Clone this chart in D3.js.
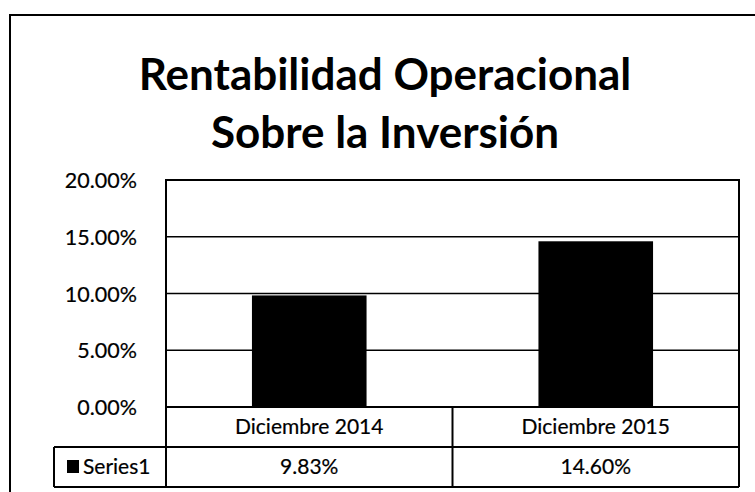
<!DOCTYPE html>
<html>
<head>
<meta charset="utf-8">
<script src="https://cdn.jsdelivr.net/npm/d3@7"></script>
<style>
  body { margin: 0; background: #fff; }
  svg { display: block; font-family: Lato, "Open Sans", sans-serif; }
  .thick { stroke: #000; stroke-width: 0.2px; }
</style>
</head>
<body>
<div id="chart"></div>
<script>
(function(){

let categories = ["Diciembre 2014", "Diciembre 2015"];
let seriesName = "Series1";
let values = [0.0983, 0.1460];
let valueLabels = ["9.83%", "14.60%"];
let yTicks = [0, 0.05, 0.10, 0.15, 0.20];
let titleLines = ["Rentabilidad Operacional", "Sobre la Inversión"];

let W = 755, H = 492;
let plot = {left: 166, right: 739, top: 180, bottom: 407};
let rowH = 40;

let svg = d3.select("#chart").append("svg")
    .attr("width", W)
    .attr("height", H);

svg.append("rect").attr("width", W).attr("height", H).attr("fill", "#fff");

// outer frame
svg.append("path")
    .attr("d", "M10," + H + " L10,15 L" + W + ",15")
    .attr("fill", "none")
    .attr("stroke", "#000")
    .attr("stroke-width", 2);

// title
svg.selectAll("text.title")
    .data(titleLines)
    .enter().append("text")
    .attr("class", "title")
    .attr("x", 385)
    .attr("y", (d, i) => 90 + i * 58)
    .attr("text-anchor", "middle")
    .style("font-size", "44px")
    .style("font-weight", "bold")
    .text(d => d);

let x = d3.scaleBand().domain(categories).range([plot.left, plot.right]).paddingInner(0).paddingOuter(0);
let y = d3.scaleLinear().domain([0, 0.20]).range([plot.bottom, plot.top]);

// gridlines
svg.append("g")
    .selectAll("line")
    .data(yTicks)
    .enter().append("line")
    .attr("x1", plot.left).attr("x2", plot.right)
    .attr("y1", d => y(d)).attr("y2", d => y(d))
    .attr("stroke", "#000")
    .attr("stroke-width", 1.5);

// y axis labels
let yAxis = svg.append("g")
    .attr("transform", "translate(" + (plot.left - 26) + ",0)")
    .call(d3.axisLeft(y).tickValues(yTicks).tickFormat(d3.format(".2%")).tickSize(0));
yAxis.select(".domain").remove();
yAxis.selectAll("text")
    .attr("class", "thick")
    .style("font-family", "Lato, 'Open Sans', sans-serif")
    .style("font-size", "21.5px")
    .attr("fill", "#000")
    .attr("dy", "0.35em");

// bars
let barW = x.bandwidth() * 0.4;
svg.append("g")
    .selectAll("rect")
    .data(values)
    .enter().append("rect")
    .attr("x", (d, i) => x(categories[i]) + (x.bandwidth() - barW) / 2)
    .attr("y", d => y(d))
    .attr("width", barW)
    .attr("height", d => y(0) - y(d))
    .attr("fill", "#000");

// plot frame
svg.append("rect")
    .attr("x", plot.left).attr("y", plot.top)
    .attr("width", plot.right - plot.left)
    .attr("height", plot.bottom - plot.top)
    .attr("fill", "none")
    .attr("stroke", "#000")
    .attr("stroke-width", 2);

// data table
let keyLeft = 54;
let table = svg.append("g").attr("stroke", "#000").attr("stroke-width", 2).attr("fill", "none");
let tBottom = plot.bottom + rowH * 2;
table.append("path")
    .attr("d", "M" + plot.left + "," + plot.bottom + " L" + plot.left + "," + tBottom +
               " M" + keyLeft + "," + (plot.bottom + rowH) + " L" + plot.right + "," + (plot.bottom + rowH) +
               " M" + keyLeft + "," + tBottom + " L" + plot.right + "," + tBottom +
               " M" + keyLeft + "," + (plot.bottom + rowH) + " L" + keyLeft + "," + tBottom +
               " M" + plot.right + "," + plot.bottom + " L" + plot.right + "," + tBottom);
table.selectAll("line.sep")
    .data(categories.slice(1))
    .enter().append("line")
    .attr("x1", d => x(d)).attr("x2", d => x(d))
    .attr("y1", plot.bottom).attr("y2", tBottom);

svg.selectAll("text.cat")
    .data(categories)
    .enter().append("text")
    .attr("class", "cat thick")
    .attr("x", d => x(d) + x.bandwidth() / 2)
    .attr("y", plot.bottom + rowH / 2)
    .attr("dy", "0.35em")
    .attr("text-anchor", "middle")
    .style("font-size", "21px")
    .text(d => d);

svg.selectAll("text.val")
    .data(valueLabels)
    .enter().append("text")
    .attr("class", "val thick")
    .attr("x", (d, i) => x(categories[i]) + x.bandwidth() / 2)
    .attr("y", plot.bottom + rowH * 1.5)
    .attr("dy", "0.35em")
    .attr("text-anchor", "middle")
    .style("font-size", "21px")
    .text(d => d);

// legend key
svg.append("rect")
    .attr("x", keyLeft + 13).attr("y", plot.bottom + rowH * 1.5 - 7)
    .attr("width", 12).attr("height", 13)
    .attr("fill", "#000");
svg.append("text")
    .attr("class", "thick")
    .attr("x", keyLeft + 29)
    .attr("y", plot.bottom + rowH * 1.5)
    .attr("dy", "0.35em")
    .style("font-size", "21px")
    .text(seriesName);

})();
</script>
</body>
</html>
